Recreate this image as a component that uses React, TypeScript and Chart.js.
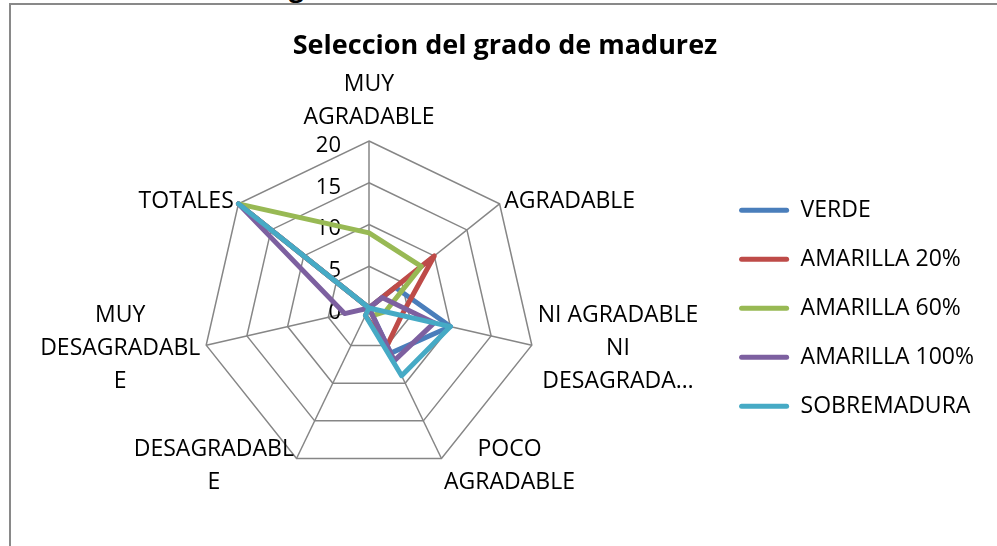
import React, { useEffect, useRef } from 'react';
import { Chart, registerables } from 'chart.js';

Chart.register(...registerables);

// ---- data ----
const categories: string[][] = [
  ['MUY', 'AGRADABLE'],
  ['AGRADABLE'],
  ['NI AGRADABLE', 'NI', 'DESAGRADA…'],
  ['POCO', 'AGRADABLE'],
  ['DESAGRADABL', 'E'],
  ['MUY', 'DESAGRADABL', 'E'],
  ['TOTALES'],
];
const seriesNames = ['VERDE', 'AMARILLA 20%', 'AMARILLA 60%', 'AMARILLA 100%', 'SOBREMADURA'];
const verde = [0, 4, 10, 6, 0, 0, 20];
const amarilla20 = [0, 10, 4, 5, 1, 0, 20];
const amarilla60 = [9, 8, 2, 1, 0, 0, 20];
const amarilla100 = [0, 2, 8, 7, 0, 3, 20];
const sobremadura = [0, 0, 10, 9, 1, 0, 20];
const tickValues = [0, 5, 10, 15, 20];
const seriesColors = ['#4A7EBB', '#BE4B48', '#98B954', '#7D60A0', '#46AAC5'];
const titleText = 'Seleccion del grado de madurez';

const FONT = '"Open Sans", "Noto Sans", sans-serif';
const FS = 23;

const excelLabels = {
  id: 'excelLabels',
  beforeDatasetsDraw(chart: any) {
    const scale = chart.scales.r;
    const ctx = chart.ctx;
    ctx.save();
    ctx.fillStyle = '#000';
    ctx.font = `22px ${FONT}`;
    ctx.textAlign = 'right';
    ctx.textBaseline = 'alphabetic';
    const capHalf = (22 * 0.714) / 2;
    tickValues.forEach((v) => {
      const y = scale.yCenter - scale.getDistanceFromCenterForValue(v) + 3;
      ctx.fillText(String(v), scale.xCenter - 28, y + capHalf);
    });
    ctx.restore();
  },
  afterDraw(chart: any) {
    const scale = chart.scales.r;
    const ctx = chart.ctx;
    const labels = chart.data.labels as string[][];
    const n = labels.length;
    ctx.save();
    ctx.fillStyle = '#000';
    ctx.font = `${FS}px ${FONT}`;
    ctx.textBaseline = 'alphabetic';
    ctx.textAlign = 'center';
    const lh = 33;
    const capHalf = (FS * 0.714) / 2;
    labels.forEach((lines, i) => {
      const p = scale.getPointPosition(i, scale.drawingArea + 6);
      const w = Math.max(...lines.map((l) => ctx.measureText(l).width));
      const ang = (i * 360) / n;
      let cx: number;
      if (Math.abs(ang) < 1 || Math.abs(ang - 180) < 1) cx = p.x;
      else if (ang < 180) cx = p.x + w / 2;
      else cx = p.x - w / 2;
      let firstBaseline: number;
      if (Math.abs(ang) < 1) {
        firstBaseline = p.y - 11 - (lines.length - 1) * lh;
      } else {
        firstBaseline = p.y - ((lines.length - 1) * lh) / 2 + capHalf;
      }
      lines.forEach((l, k) => ctx.fillText(l, cx, firstBaseline + k * lh));
    });
    ctx.restore();
  },
};

export default function App() {
  const ref = useRef<HTMLCanvasElement | null>(null);
  useEffect(() => {
    if (!ref.current) return;
    const data = [verde, amarilla20, amarilla60, amarilla100, sobremadura];
    const chart = new Chart(ref.current, {
      type: 'radar',
      data: {
        labels: categories,
        datasets: seriesNames.map((name, i) => ({
          label: name,
          data: data[i],
          borderColor: seriesColors[i],
          backgroundColor: seriesColors[i],
          borderWidth: 5,
          fill: false,
          pointRadius: 0,
          pointHoverRadius: 0,
          borderJoinStyle: 'round' as const,
          borderCapStyle: 'round' as const,
          order: seriesNames.length - i,
        })),
      },
      options: {
        animation: false,
        responsive: false,
        devicePixelRatio: 1,
        layout: { padding: { top: 4, bottom: 70, left: 26, right: 13 } },
        scales: {
          r: {
            min: 0,
            max: 20,
            ticks: { stepSize: 5, display: false },
            grid: { color: '#868686', lineWidth: 1.5 },
            angleLines: { color: '#868686', lineWidth: 1.5 },
            pointLabels: { display: false },
          },
        },
        plugins: {
          title: {
            display: true,
            text: titleText,
            color: '#000',
            font: { family: FONT, size: 27, weight: 'bold' },
            padding: { top: 26, bottom: 78 },
          },
          legend: {
            position: 'right',
            fullSize: false,
            align: 'center',
            labels: {
              boxWidth: 50,
              boxHeight: 5,
              padding: 26,
              color: '#000',
              useBorderRadius: true,
              borderRadius: 2.5,
              font: { family: FONT, size: FS },
              sort: (a: any, b: any) => a.datasetIndex - b.datasetIndex,
              generateLabels: (c: any) =>
                Chart.defaults.plugins.legend.labels
                  .generateLabels(c)
                  .map((it: any) => ({ ...it, fillStyle: seriesColors[it.datasetIndex], lineWidth: 0 })),
            },
          },
          tooltip: { enabled: false },
        },
      },
      plugins: [excelLabels],
    } as any);
    return () => chart.destroy();
  }, []);

  return (
    <div style={{ position: 'fixed', left: 0, top: 0, width: 997, height: 546, overflow: 'hidden', background: '#fff' }}>
      <div
        style={{
          position: 'absolute',
          left: 289,
          top: -26,
          fontFamily: FONT,
          fontWeight: 'bold',
          fontSize: 26,
          lineHeight: '26px',
          color: '#000',
        }}
      >
        g
      </div>
      <div
        style={{
          position: 'absolute',
          left: 9,
          top: 3,
          width: 1200,
          height: 800,
          border: '2px solid #898989',
        }}
      />
      <canvas ref={ref} width={997} height={546} style={{ position: 'absolute', left: 0, top: 0, width: 997, height: 546 }} />
    </div>
  );
}
